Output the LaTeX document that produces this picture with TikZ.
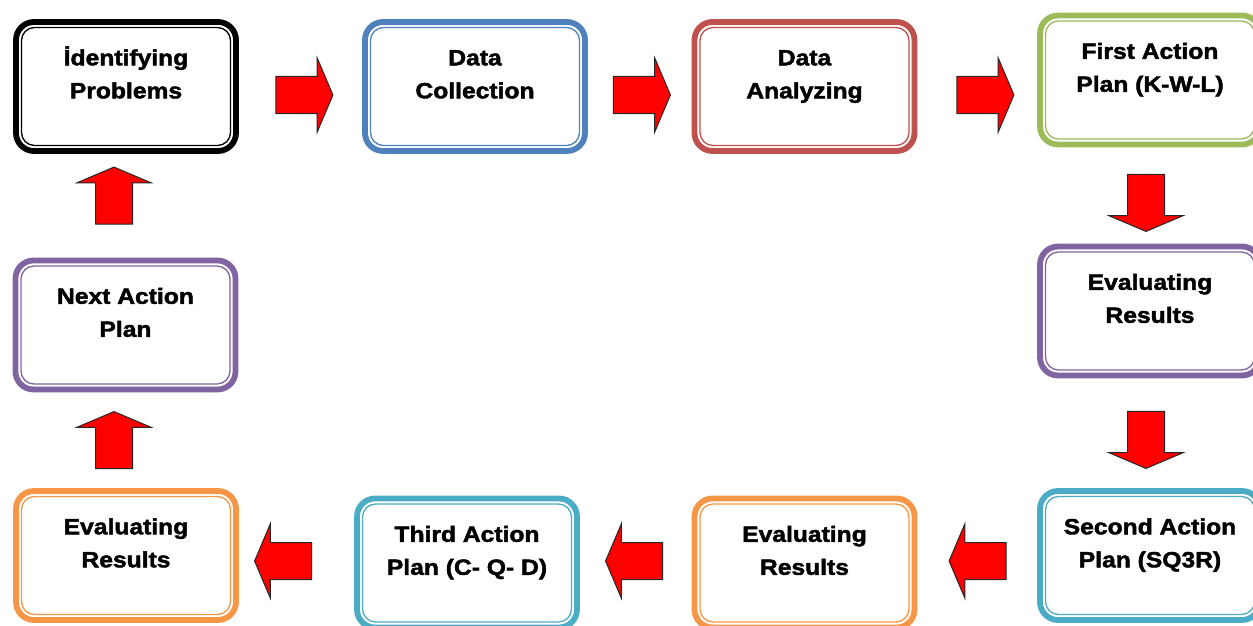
\documentclass[tikz,border=0pt]{standalone}
\usepackage{fontspec}
\setmainfont{Liberation Sans}[FakeStretch=1.12, BoldFeatures={FakeBold=2}]
\usetikzlibrary{shapes.arrows}
\definecolor{accBlue}{RGB}{79,129,189}
\definecolor{accRed}{RGB}{192,80,77}
\definecolor{accGreen}{RGB}{155,187,89}
\definecolor{accPurple}{RGB}{128,100,162}
\definecolor{accAqua}{RGB}{75,172,198}
\definecolor{accOrange}{RGB}{247,150,70}
\newcommand{\boxfont}{\fontsize{22}{33}\selectfont\bfseries}

\begin{document}
\begin{tikzpicture}[x = 1pt, y = -1pt]
\tikzstyle{boxStyle}=[rectangle, draw = #1, line width = 5.8pt, rounded corners = 18pt,
minimum width = 220pt, minimum height = 129pt, fill = white, outer sep = 0pt]
\tikzstyle{rimStyle}=[draw = #1, line width = 1.3pt, rounded corners = 13pt]
\tikzstyle{labelStyle}=[anchor = north, align = center, inner sep = 0pt, font = \boxfont]
\tikzstyle{arrowStyle}=[single arrow, draw = black!85, line width = 1pt, fill = red,
minimum height = 57pt, inner xsep = 0pt, inner ysep = 18pt,
single arrow head extend = 18.5pt, single arrow tip angle = 134]
\useasboundingbox (0,0) rectangle (1253,626);
\node[boxStyle = black] (ip) at (126, 86.5) {};
\node[boxStyle = accBlue] (dc) at (475, 86.5) {};
\node[boxStyle = accRed] (da) at (804.5, 86.5) {};
\node[boxStyle = accGreen] (fa) at (1150, 80) {};
\node[boxStyle = accPurple] (er1) at (1150, 311) {};
\node[boxStyle = accAqua] (sa) at (1150, 555.5) {};
\node[boxStyle = accOrange] (er2) at (804.5, 563) {};
\node[boxStyle = accAqua] (ta) at (467, 563) {};
\node[boxStyle = accOrange] (er3) at (126, 555.5) {};
\node[boxStyle = accPurple] (na) at (125.5, 325) {};
\foreach \n/\c in {ip/black, dc/accBlue, da/accRed, fa/accGreen, er1/accPurple,
sa/accAqua, er2/accOrange, ta/accAqua, er3/accOrange, na/accPurple}
\draw[rimStyle = \c] ([xshift = 5.5pt, yshift = -5.5pt]\n.north west) rectangle
([xshift = -5.5pt, yshift = 5.5pt]\n.south east);
\node[labelStyle] (ipl) at ([yshift = -20pt]ip.north) {\strut İdentifying\\Problems};
\node[labelStyle] (dcl) at ([yshift = -20pt]dc.north) {\strut Data\\Collection};
\node[labelStyle] (dal) at ([yshift = -20pt]da.north) {\strut Data\\Analyzing};
\node[labelStyle] (fal) at ([yshift = -20pt]fa.north) {\strut First Action\\Plan (K-W-L)};
\node[labelStyle] (er1l) at ([yshift = -20pt]er1.north) {\strut Evaluating\\Results};
\node[labelStyle] (sal) at ([yshift = -20pt]sa.north) {\strut Second Action\\Plan (SQ3R)};
\node[labelStyle] (er2l) at ([yshift = -20pt]er2.north) {\strut Evaluating\\Results};
\node[labelStyle] (tal) at ([yshift = -20pt]ta.north) {\strut Third Action\\Plan (C- Q- D)};
\node[labelStyle] (er3l) at ([yshift = -20pt]er3.north) {\strut Evaluating\\Results};
\node[labelStyle] (nal) at ([yshift = -20pt]na.north) {\strut Next Action\\Plan};
% block arrows between the steps
\node[arrowStyle] (ar1) at (300.5, 95) {};
\node[arrowStyle] (ar2) at (638, 95) {};
\node[arrowStyle] (ar3) at (981.5, 95) {};
\node[arrowStyle, rotate = -90] (ad1) at (1146, 199) {};
\node[arrowStyle, rotate = -90] (ad2) at (1146, 436) {};
\node[arrowStyle, rotate = 180] (al1) at (981.5, 561) {};
\node[arrowStyle, rotate = 180] (al2) at (638, 561) {};
\node[arrowStyle, rotate = 180] (al3) at (287, 561) {};
\node[arrowStyle, rotate = 90] (au1) at (114, 444) {};
\node[arrowStyle, rotate = 90] (au2) at (114, 199.5) {};
\end{tikzpicture}
\end{document}
